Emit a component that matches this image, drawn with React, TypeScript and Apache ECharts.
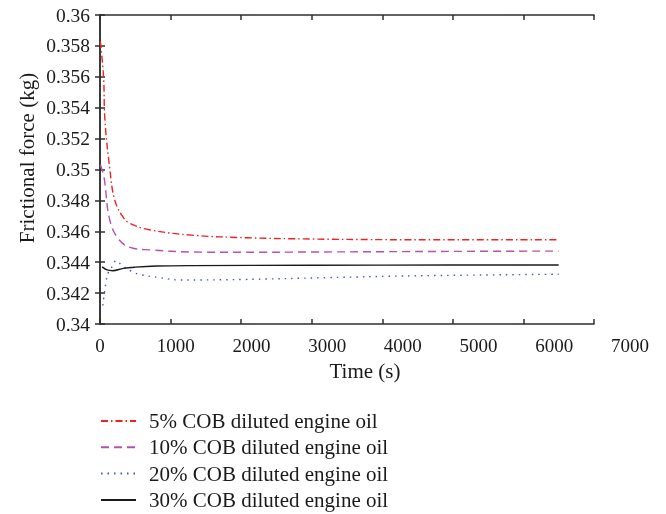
import React, { useEffect, useRef } from "react";
import * as echarts from "echarts";

const seriesNames = [
  "5% COB diluted engine oil",
  "10% COB diluted engine oil",
  "20% COB diluted engine oil",
  "30% COB diluted engine oil",
];

const time5 = [5, 50, 70, 140, 210, 330, 430, 700, 1300, 2100, 3000, 4000, 5000, 6500];
const force5 = [0.3583, 0.356, 0.3532, 0.35, 0.348, 0.3469, 0.3465, 0.3461, 0.34575, 0.34558, 0.3455, 0.34546, 0.34545, 0.34545];

const time10 = [5, 57, 140, 280, 470, 700, 1300, 2000, 3000, 4000, 5000, 6500];
const force10 = [0.3503, 0.3495, 0.3467, 0.3454, 0.3449, 0.3448, 0.34466, 0.34464, 0.34466, 0.34468, 0.3447, 0.34472];

const time20 = [40, 85, 115, 170, 230, 310, 450, 570, 850, 1130, 2000, 3200, 4500, 6500];
const force20 = [0.3412, 0.3427, 0.3433, 0.3437, 0.3441, 0.3438, 0.3434, 0.3432, 0.343, 0.34285, 0.34288, 0.343, 0.34312, 0.34322];

const time30 = [30, 100, 180, 330, 500, 800, 1300, 3000, 5000, 6500];
const force30 = [0.3437, 0.3435, 0.34345, 0.3436, 0.34368, 0.34375, 0.34378, 0.3438, 0.34382, 0.34382];

const xTicks = { min: 0, max: 7000, interval: 1000 };
const yTicks = { min: 0.34, max: 0.36, interval: 0.002 };

const FONT = "Liberation Serif";
const TXT = "#1a1a1a";
const FRAME = "#2e2e2e";

function zip(t: number[], v: number[]) {
  return t.map((x, i) => [x, v[i]]);
}

export default function App() {
  const ref = useRef<HTMLDivElement>(null);
  useEffect(() => {
    if (!ref.current) return;
    const chart = echarts.init(ref.current, null, { renderer: "svg" });
    const frameAxis = {
      axisLine: { show: true, lineStyle: { color: FRAME, width: 1.5 } },
      axisTick: { show: true, inside: true, length: 5, lineStyle: { color: FRAME, width: 1.5 } },
      splitLine: { show: false },
    };
    const styles = [
      { color: "#ee2222", type: [7, 3, 1.5, 3] },
      { color: "#b650ac", type: [8, 5] },
      { color: "#4459c0", type: [1.5, 5] },
      { color: "#1a1a1a", type: "solid" },
    ];
    const datas = [zip(time5, force5), zip(time10, force10), zip(time20, force20), zip(time30, force30)];
    chart.setOption({
      animation: false,
      textStyle: { fontFamily: FONT, color: TXT },
      grid: [
        { left: 100, top: 15, width: 494, height: 309 },
        { left: 100, top: 15, width: 530, height: 309, show: false },
      ],
      xAxis: [
        {
          type: "value", gridIndex: 0, position: "bottom", ...xTicks,
          ...frameAxis, axisLabel: { show: false },
        },
        {
          type: "value", gridIndex: 0, position: "top", ...xTicks,
          ...frameAxis, axisLabel: { show: false },
        },
        {
          type: "value", gridIndex: 1, position: "bottom", ...xTicks,
          axisLine: { show: false }, axisTick: { show: false }, splitLine: { show: false },
          axisLabel: {
            show: true, margin: 12, fontSize: 19, fontFamily: FONT, color: TXT,
            formatter: (v: number) => String(v),
          },
          name: "Time (s)", nameLocation: "middle", nameGap: 36,
          nameTextStyle: { fontSize: 21, fontFamily: FONT, color: TXT },
        },
      ],
      yAxis: [
        {
          type: "value", gridIndex: 0, position: "left", ...yTicks,
          ...frameAxis,
          axisLabel: {
            show: true, margin: 10, fontSize: 19.5, fontFamily: FONT, color: TXT,
            formatter: (v: number) => String(parseFloat(v.toFixed(3))),
          },
        },
        {
          type: "value", gridIndex: 0, position: "right", ...yTicks,
          ...frameAxis, axisLabel: { show: false },
        },
        {
          type: "value", gridIndex: 1, ...yTicks, show: false,
        },
      ],
      legend: {
        orient: "vertical",
        left: 100,
        top: 410,
        padding: 0,
        itemWidth: 35,
        itemHeight: 14,
        itemGap: 4.3,
        data: seriesNames,
        itemStyle: { opacity: 0 },
        textStyle: { fontSize: 21, lineHeight: 22, fontFamily: FONT, color: TXT, padding: [0, 0, 0, 8] },
      },
      graphic: [
        {
          type: "text",
          x: 27,
          y: 158,
          rotation: Math.PI / 2,
          style: {
            text: "Frictional force (kg)",
            fontSize: 21,
            fontFamily: FONT,
            fill: TXT,
            align: "center",
            verticalAlign: "middle",
          },
        },
      ],
      series: seriesNames.map((name, i) => ({
        name,
        type: "line",
        xAxisIndex: 0,
        yAxisIndex: 0,
        data: datas[i],
        smooth: 0.4,
        showSymbol: false,
        symbol: "none",
        itemStyle: { color: styles[i].color },
        lineStyle: { color: styles[i].color, width: 1.4, type: styles[i].type as any },
      })),
    });
    return () => chart.dispose();
  }, []);
  return <div ref={ref} style={{ position: "fixed", left: 0, top: 0, width: 666, height: 514 }} />;
}
